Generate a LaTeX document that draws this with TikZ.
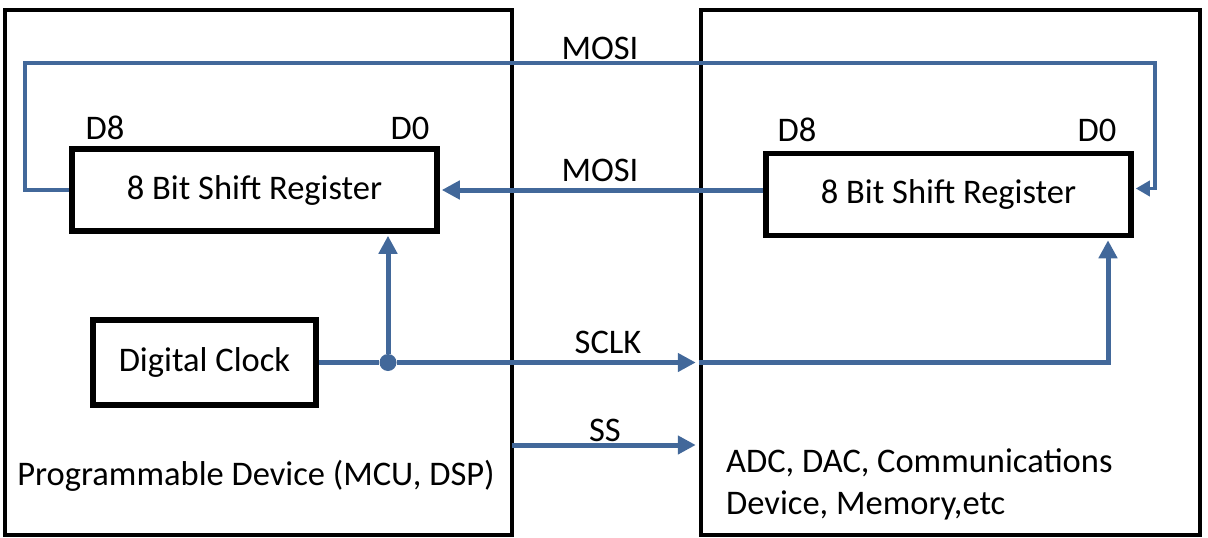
\documentclass[tikz,border=0pt]{standalone}
\usepackage{fontspec}
\setmainfont{Carlito}
\usepackage{tikz}
\usetikzlibrary{arrows.meta,shapes}
\definecolor{wireblue}{RGB}{66,104,154}
\tikzstyle{device}=[draw,line width=4.5pt,minimum height=525pt,inner sep=0pt]
\tikzstyle{register}=[draw,line width=5.5pt,minimum width=365pt,minimum height=82pt,inner sep=0pt]
\tikzstyle{tag}=[inner sep=0pt]
\tikzstyle{junction}=[circle,fill=wireblue,minimum size=17pt,inner sep=0pt]
\tikzstyle{wire} = [draw,line width=5pt,wireblue,-{Triangle[length=18pt,width=18pt]}]

\begin{document}
\begin{tikzpicture}[x=1pt,y=-1pt,font=\fontsize{34.5}{41}\selectfont]
    \useasboundingbox (0,0) rectangle (1208,538);
    % First we draw the two devices
    \foreach \pos/\name/\w in {{(258.5,272.5)/lbig/507}, {(950.5,272.5)/rbig/499}}
        \node[device,minimum width=\w pt] (\name) at \pos {};
    % The shift registers and the clock
    \foreach \pos/\name in {{(254.5,190)/lreg}, {(948.5,194.5)/rreg}}
        \node[register] (\name) at \pos {8 Bit Shift Register};
    \node[register,minimum width=223pt,minimum height=85pt] (clk) at (204.5,362.5) {Digital Clock};
    % Bit and signal labels
    \foreach \pos/\name/\txt in {{(105,128)/ldeight/D8}, {(410,128)/ldzero/D0},
                                 {(797,130)/rdeight/D8}, {(1097,130)/rdzero/D0},
                                 {(600,48)/mositop/MOSI}, {(600,170)/mosimid/MOSI},
                                 {(608,342)/sclk/SCLK}, {(605,430)/ss/SS}}
        \node[tag] (\name) at \pos {\txt};
    \node[tag] (lname) at (256,476) {Programmable Device (MCU, DSP)};
    \node[tag,anchor=west] (rnamea) at (726,463) {ADC, DAC, Communications};
    \node[tag,anchor=west] (rnameb) at (726,505) {Device, Memory,etc};
    % MOSI lines
    \coordinate (mtl) at (25,63);
    \coordinate (mtr) at (1155,63);
    \path[wire,line width=3.5pt,-{Triangle[length=14pt,width=15pt]},shorten >=2pt]
        (lreg.west) -| (mtl) -- (mtr) |- ([yshift=6pt]rreg.east);
    \path[wire,shorten >=2pt] (rreg.west |- lreg.east) -- (lreg.east);
    % Clock lines
    \node[junction] (tap) at (388,362.5) {};
    \path[wire,-] (clk.east) -- (tap);
    \path[wire,shorten >=2pt] (tap) -- (tap |- lreg.south);
    \path[wire,shorten >=3pt] (tap) -- (rbig.west |- tap);
    \coordinate (rk) at (1108,362.5);
    \path[wire,shorten >=2pt] (rbig.west |- tap) -| (rreg.south -| rk);
    % Slave select
    \coordinate (sso) at (512,445);
    \path[wire,shorten >=3pt] (sso) -- (rbig.west |- sso);
\end{tikzpicture}
\end{document}
